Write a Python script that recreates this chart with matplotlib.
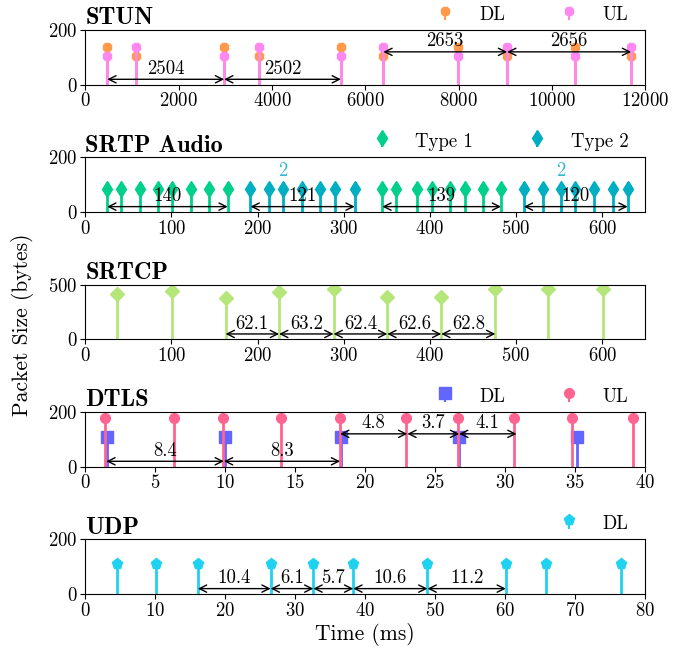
import numpy as np
import matplotlib
matplotlib.use('Agg')
import matplotlib.pyplot as plt

plt.rcParams['font.family'] = ['cmr10', 'DejaVu Serif']
plt.rcParams['axes.formatter.use_mathtext'] = True
plt.rcParams['axes.unicode_minus'] = False
plt.rcParams['font.size'] = 13

# STUN (x in ms)
stun_x = [471, 1083, 2975, 3730, 5477, 6386, 7987, 9039, 10483, 11695]
stun_dl = [138, 104, 138, 104, 138, 104, 138, 104, 138, 104]
stun_ul = [104, 138, 104, 138, 104, 138, 104, 138, 104, 138]
stun_arrows = [(471, 2975, 20, '2504'), (2975, 5477, 20, '2502'),
               (6386, 9039, 120, '2653'), (9039, 11695, 120, '2656')]

# SRTP Audio
srtp_t1_x = [25.4, 41.7, 63.0, 84.4, 100.2, 122.5, 143.4, 165.3,
             344.7, 361.0, 384.4, 402.2, 423.0, 440.3, 461.7, 482.5]
srtp_t2_x = [191.7, 213.0, 229.3, 251.2, 272.5, 289.8, 312.7,
             509.0, 530.8, 552.2, 568.5, 590.3, 612.7, 629.5]
srtp_t1_y = [85] * len(srtp_t1_x)
srtp_t2_y = [85] * len(srtp_t2_x)
srtp_arrows = [(25.4, 165.3, 20, '140'), (191.7, 312.7, 20, '121'),
               (344.7, 482.5, 20, '139'), (509.0, 629.5, 20, '120')]
srtp_count = [(229.3, '2'), (552.2, '2')]

# SRTCP
srtcp_x = [37.2, 100.5, 162.8, 224.9, 288.1, 350.5, 413.1, 475.9, 537.2, 600.5]
srtcp_y = [410, 440, 382, 434, 455, 385, 389, 455, 455, 455]
srtcp_arrows = [(162.8, 224.9, 50, '62.1'), (224.9, 288.1, 50, '63.2'),
                (288.1, 350.5, 50, '62.4'), (350.5, 413.1, 50, '62.6'),
                (413.1, 475.9, 50, '62.8')]

# DTLS
dtls_dl_x = [1.54, 9.95, 18.24, 26.69, 35.13]
dtls_dl_y = [109, 109, 109, 109, 109]
dtls_ul_x = [1.41, 6.31, 9.86, 13.97, 18.18, 22.92, 26.62, 30.64, 34.79, 39.12]
dtls_ul_y = [178] * len(dtls_ul_x)
dtls_arrows = [(1.5, 9.9, 20, '8.4'), (9.9, 18.2, 20, '8.3'),
               (18.2, 23.0, 120, '4.8'), (23.0, 26.7, 120, '3.7'),
               (26.7, 30.8, 120, '4.1')]

# UDP
udp_x = [4.46, 10.05, 16.08, 26.48, 32.58, 38.28, 48.88, 60.08, 65.8, 76.5]
udp_y = [110] * len(udp_x)
udp_arrows = [(16.08, 26.48, 20, '10.4'), (26.48, 32.58, 20, '6.1'),
              (32.58, 38.28, 20, '5.7'), (38.28, 48.88, 20, '10.6'),
              (48.88, 60.08, 20, '11.2')]

titles = ['STUN', 'SRTP Audio', 'SRTCP', 'DTLS', 'UDP']


def stem(ax, x, y, color, marker, label, ms=7):
    c = ax.stem(x, y, basefmt=' ', label=label)
    c.markerline.set_color(color)
    c.markerline.set_marker(marker)
    c.markerline.set_markersize(ms)
    c.stemlines.set_color(color)
    c.stemlines.set_linewidth(2)
    return c


def arrows(ax, items):
    for x0, x1, y, txt in items:
        ax.annotate('', xy=(x1, y), xytext=(x0, y),
                    arrowprops=dict(arrowstyle='<->', color='black', lw=1,
                                    shrinkA=0, shrinkB=0))
        ax.annotate(txt, xy=((x0 + x1) / 2, y), xytext=(0, 1),
                    textcoords='offset points', ha='center', va='bottom',
                    fontsize=13.5)


fig, axs = plt.subplots(5, 1, figsize=(6.88, 6.5), dpi=100)
plt.subplots_adjust(left=0.124, right=0.938, top=0.954, bottom=0.086, hspace=1.32)

ax = axs[0]
stem(ax, stun_x, stun_dl, '#FF9A4D', '8', 'DL')
stem(ax, stun_x, stun_ul, '#FF88F0', '8', 'UL')
arrows(ax, stun_arrows)
ax.set_xlim(0, 12000)
ax.set_ylim(0, 200)

ax = axs[1]
stem(ax, srtp_t1_x, srtp_t1_y, '#00D08C', 'd', 'Type 1', ms=8)
stem(ax, srtp_t2_x, srtp_t2_y, '#00AEC2', 'd', 'Type 2', ms=8)
arrows(ax, srtp_arrows)
for x, s in srtp_count:
    ax.text(x, 118, s, color='#2FBAD0', ha='center', va='bottom', fontsize=13.5)
ax.set_xlim(0, 650)
ax.set_ylim(0, 200)

ax = axs[2]
stem(ax, srtcp_x, srtcp_y, '#B4E67A', 'D', None)
arrows(ax, srtcp_arrows)
ax.set_xlim(0, 650)
ax.set_ylim(0, 500)

ax = axs[3]
stem(ax, dtls_dl_x, dtls_dl_y, '#6464FF', 's', 'DL', ms=8)
stem(ax, dtls_ul_x, dtls_ul_y, '#FF6490', 'o', 'UL')
arrows(ax, dtls_arrows)
ax.set_xlim(0, 40)
ax.set_ylim(0, 200)

ax = axs[4]
stem(ax, udp_x, udp_y, '#1ED2F0', 'p', 'DL', ms=8)
arrows(ax, udp_arrows)
ax.set_xlim(0, 80)
ax.set_ylim(0, 200)
ax.set_xlabel('Time (ms)', fontsize=15.5, labelpad=2)

for i, ax in enumerate(axs):
    ax.set_title(titles[i], loc='left', fontfamily='cmb10', fontsize=17.5, pad=4)
    ax.tick_params(labelsize=13.5, pad=2)
    if i != 2:
        ax.legend(loc='lower right', bbox_to_anchor=(1.0, 0.80), ncol=2, frameon=False,
                  fontsize=13.5, columnspacing=2.8, handletextpad=1.2, handlelength=1.2)

fig.text(0.033, 0.5, 'Packet Size (bytes)', rotation=90, va='center', ha='center',
         fontsize=15.5)

plt.savefig('out.png', dpi=100)
